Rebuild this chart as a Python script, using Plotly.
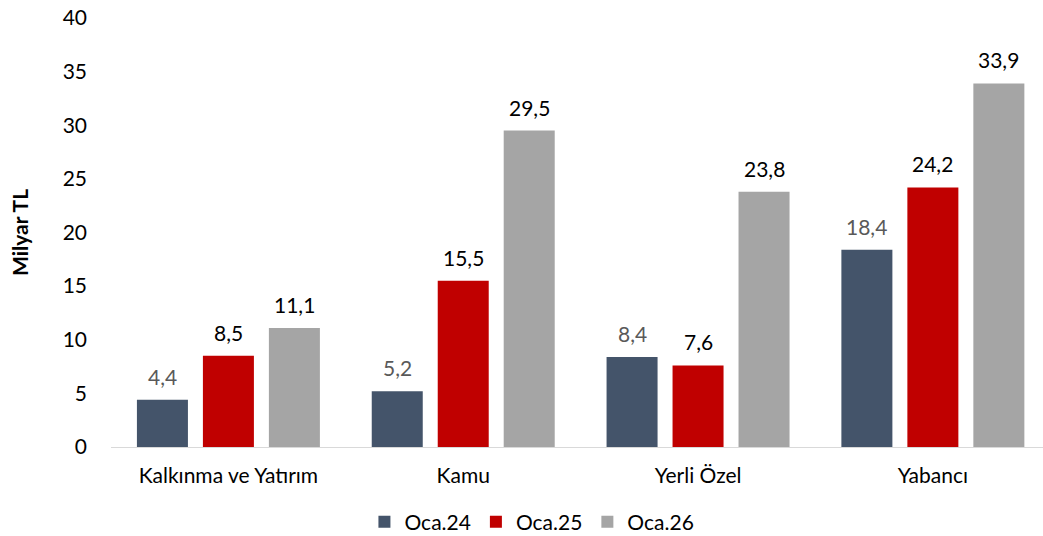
import plotly.graph_objects as go

categories = ["Kalkınma ve Yatırım", "Kamu", "Yerli Özel", "Yabancı"]
series_names = ["Oca.24", "Oca.25", "Oca.26"]
oca24 = [4.4, 5.2, 8.4, 18.4]
oca25 = [8.5, 15.5, 7.6, 24.2]
oca26 = [11.1, 29.5, 23.8, 33.9]

colors = ["#44546A", "#C00000", "#A5A5A5"]
label_colors = ["#595959", "#000000", "#000000"]

FONT = "Lato, Open Sans, sans-serif"
FS = 21
SLOT_PX = 66  # horizontal distance between neighbouring bars within a group

fig = go.Figure()
for i, (name, vals, col, lcol) in enumerate(zip(series_names, [oca24, oca25, oca26], colors, label_colors)):
    fig.add_trace(go.Bar(
        name=name,
        x=categories,
        y=vals,
        marker=dict(color=col, line=dict(width=0)),
    ))
    # value labels above each bar
    for cat, v in zip(categories, vals):
        fig.add_annotation(
            x=cat, y=v, xref="x", yref="y",
            text=f"{v:.1f}".replace(".", ","),
            showarrow=False,
            xshift=(i - 1) * SLOT_PX,
            yanchor="bottom", yshift=9,
            font=dict(size=FS, color=lcol, family=FONT),
        )

fig.update_layout(
    width=1043,
    height=536,
    margin=dict(l=111, r=0, t=18, b=89),
    paper_bgcolor="white",
    plot_bgcolor="white",
    barmode="group",
    bargap=0.157,
    bargroupgap=0.227,
    font=dict(family=FONT, size=FS, color="#000000"),
    showlegend=True,
    legend=dict(
        orientation="h",
        x=0.51, xanchor="center", xref="container",
        y=0.026, yanchor="middle", yref="container",
        font=dict(size=FS, color="#000000"),
        itemwidth=30,
        tracegroupgap=0,
        traceorder="normal",
    ),
    xaxis=dict(
        range=[-0.5, 3.469],
        showline=True,
        linecolor="#D9D9D9",
        linewidth=1,
        ticks="",
        showgrid=False,
        automargin=False,
        ticklabelstandoff=10,
        tickfont=dict(size=FS, color="#000000"),
    ),
    yaxis=dict(
        range=[0, 40],
        dtick=5,
        showgrid=False,
        zeroline=False,
        showline=False,
        ticks="",
        automargin=False,
        ticklabelstandoff=23,
        tickfont=dict(size=FS, color="#000000"),
        title=dict(text="<b>Milyar TL</b>", font=dict(size=FS, color="#000000"), standoff=28),
    ),
)

fig.write_html("out.html")
